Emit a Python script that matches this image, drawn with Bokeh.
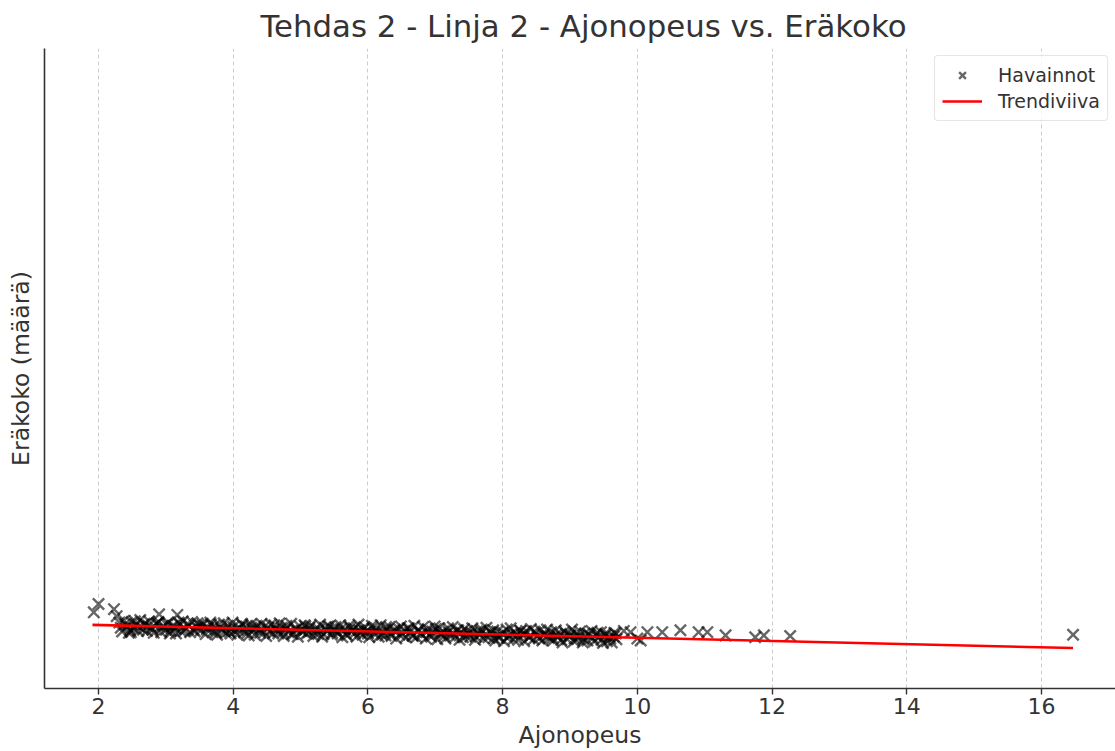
from bokeh.plotting import figure
from bokeh.models import Range1d, FixedTicker
from bokeh.embed import file_html
from bokeh.resources import INLINE

TITLE = "Tehdas 2 - Linja 2 - Ajonopeus vs. Eräkoko"
X_LABEL = "Ajonopeus"
Y_LABEL = "Eräkoko (määrä)"
x_ticks = [2, 4, 6, 8, 10, 12, 14, 16]

obs_x = [
    1.93, 2.00, 2.23, 2.27, 2.48, 2.90, 3.17,
    2.31, 2.35, 2.38, 2.42, 2.45, 2.49, 2.52, 2.56, 2.59, 2.62, 2.66, 2.69,
    2.72, 2.75, 2.79, 2.82, 2.86, 2.89, 2.93, 2.96, 3.00, 3.03, 3.06, 3.09,
    3.12, 3.15, 3.19, 3.22, 3.25, 3.29, 3.32, 3.36, 3.39, 3.43, 3.46, 3.49,
    3.52, 3.55, 3.59, 3.62, 3.66, 3.69, 3.72, 3.76, 3.79, 3.83, 3.86, 3.89,
    3.92, 3.96, 3.99, 4.02, 4.06, 4.09, 4.13, 4.16, 4.19, 4.23, 4.26, 4.29,
    4.32, 4.35, 4.39, 4.42, 4.46, 4.49, 4.52, 4.56, 4.59, 4.63, 4.66, 4.69,
    4.72, 4.75, 4.79, 4.82, 4.86, 4.89, 4.92, 4.96, 4.99, 5.03, 5.06, 5.09,
    5.12, 5.15, 5.19, 5.22, 5.26, 5.29, 5.32, 5.36, 5.39, 5.43, 5.46, 5.49,
    5.52, 5.55, 5.59, 5.62, 5.66, 5.69, 5.72, 5.76, 5.79, 5.83, 5.86, 5.89,
    5.92, 5.95, 5.99, 6.02, 6.06, 6.09, 6.12, 6.16, 6.19, 6.23, 6.26, 6.29,
    6.32, 6.35, 6.39, 6.42, 6.46, 6.49, 6.52, 6.56, 6.59, 6.63, 6.66, 6.69,
    6.72, 6.75, 6.79, 6.82, 6.86, 6.89, 6.92, 6.96, 6.99, 7.03, 7.06, 7.09,
    7.12, 7.15, 7.19, 7.22, 7.26, 7.29, 7.32, 7.36, 7.39, 7.43, 7.46, 7.49,
    7.52, 7.55, 7.59, 7.62, 7.66, 7.69, 7.72, 7.76, 7.79, 7.83, 7.86, 7.89,
    7.92, 7.95, 7.99, 8.02, 8.06, 8.09, 8.12, 8.16, 8.19, 8.23, 8.26, 8.29,
    8.32, 8.35, 8.39, 8.42, 8.46, 8.49, 8.52, 8.56, 8.59, 8.63, 8.66, 8.69,
    8.72, 8.75, 8.79, 8.82, 8.86, 8.89, 8.92, 8.96, 8.99, 9.03, 9.06, 9.09,
    9.12, 9.15, 9.19, 9.22, 9.26, 9.29, 9.32, 9.36, 9.39, 9.43, 9.46, 9.49,
    9.52, 9.55, 9.59, 9.62, 9.66, 9.69,
    2.33, 2.40, 2.47, 2.54, 2.60, 2.67,
    2.74, 2.80, 2.87, 2.94, 3.01, 3.07,
    3.14, 3.21, 3.27, 3.34, 3.41, 3.47,
    3.54, 3.61, 3.67, 3.74, 3.81, 3.87,
    3.94, 4.00, 4.07, 4.14, 4.21, 4.27,
    4.33, 4.40, 4.47, 4.54, 4.61, 4.67,
    4.74, 4.80, 4.87, 4.94, 5.01, 5.07,
    5.13, 5.20, 5.27, 5.34, 5.41, 5.47,
    5.54, 5.60, 5.67, 5.74, 5.81, 5.87,
    5.93, 6.00, 6.07, 6.14, 6.21, 6.27,
    6.33, 6.40, 6.47, 6.54, 6.61, 6.67,
    6.74, 6.80, 6.87, 6.94, 7.01, 7.07,
    7.13, 7.20, 7.27, 7.34, 7.41, 7.47,
    7.54, 7.60, 7.67, 7.74, 7.81, 7.87,
    7.93, 8.00, 8.07, 8.14, 8.21, 8.27,
    8.33, 8.40, 8.47, 8.54, 8.61, 8.67,
    8.74, 8.80, 8.87, 8.94, 9.01, 9.07,
    9.13, 9.20, 9.27, 9.34, 9.41, 9.47,
    9.53, 9.60, 9.65,
    9.68, 9.80, 9.90, 10.00, 10.05, 10.15, 10.37, 10.64, 10.91, 11.04,
    11.31, 11.75, 11.88, 12.27, 16.47,
]
obs_y = [
    119, 132, 124, 113, 88, 116, 115,
    103, 89, 106, 97, 87, 104, 94, 100, 90, 107, 92, 101,
    90, 105, 95, 87, 101, 104, 88, 98, 92, 103, 86, 97,
    98, 86, 103, 90, 105, 93, 101, 88, 104, 89, 95, 99,
    91, 101, 85, 95, 103, 88, 98, 84, 100, 92, 102, 87,
    98, 86, 103, 90, 84, 95, 101, 88, 97, 83, 100, 92,
    84, 98, 92, 101, 88, 82, 95, 100, 86, 93, 90, 102,
    95, 82, 98, 88, 101, 85, 92, 81, 97, 90, 99, 86,
    88, 98, 82, 93, 85, 100, 81, 95, 90, 97, 84, 92,
    96, 86, 99, 80, 92, 83, 98, 89, 94, 81, 100, 87,
    84, 96, 90, 80, 98, 86, 94, 81, 99, 88, 83, 92,
    96, 82, 90, 78, 93, 97, 85, 80, 94, 88, 83, 98,
    80, 91, 86, 96, 78, 93, 83, 89, 97, 77, 94, 85,
    89, 78, 94, 83, 96, 80, 91, 76, 87, 93, 82, 85,
    81, 94, 76, 89, 84, 92, 78, 95, 80, 87, 91, 75,
    89, 79, 85, 74, 92, 82, 94, 77, 87, 76, 90, 84,
    74, 90, 80, 93, 77, 87, 82, 91, 75, 85, 92, 79,
    88, 75, 91, 80, 85, 72, 89, 77, 83, 92, 74, 86,
    78, 89, 72, 86, 75, 83, 90, 74, 85, 80, 88, 71,
    85, 74, 82, 72, 87, 77,
    95, 101, 91, 105, 96, 100,
    98, 92, 102, 94, 100, 90,
    94, 100, 90, 98, 92, 102,
    98, 92, 100, 88, 95, 90,
    89, 96, 92, 99, 87, 95,
    94, 87, 97, 90, 99, 86,
    88, 95, 85, 93, 90, 97,
    95, 88, 92, 85, 97, 87,
    89, 93, 85, 95, 87, 91,
    92, 86, 94, 88, 84, 96,
    86, 92, 84, 90, 94, 82,
    91, 84, 88, 81, 93, 86,
    82, 88, 85, 91, 80, 90,
    87, 81, 90, 84, 88, 79,
    82, 88, 79, 86, 83, 90,
    86, 80, 89, 78, 84, 82,
    79, 84, 76, 86, 83, 78,
    82, 77, 85, 79, 87, 76,
    83, 78, 81,
    86, 90, 88, 78, 75, 88, 88, 91, 88, 88,
    83, 80, 83, 82, 84,
]

# Trend line (Trendiviiva) end points
trend_x = [1.91, 16.47]
trend_y = [99.4, 63.2]

FONT = "DejaVu Sans"
TXT = "#333333"

p = figure(
    width=1115, height=751,
    x_range=Range1d(1.198, 17.1), y_range=Range1d(0, 1000),
    output_backend="svg", toolbar_location=None,
    title=TITLE,
    min_border_left=44, min_border_right=0, min_border_top=46, min_border_bottom=61,
)
p.outline_line_color = None
p.background_fill_color = "white"
p.border_fill_color = "white"

p.title.text_font = FONT
p.title.text_font_size = "30.8px"
p.title.text_font_style = "normal"
p.title.text_color = TXT
p.title.align = "left"
p.title.offset = 216

p.xaxis.ticker = FixedTicker(ticks=x_ticks)
p.yaxis.ticker = FixedTicker(ticks=[])
for ax in (p.xaxis, p.yaxis):
    ax.axis_line_color = TXT
    ax.axis_line_width = 1.6
    ax.major_tick_line_color = TXT
    ax.major_tick_line_width = 1.4
    ax.major_tick_in = 0
    ax.major_tick_out = 6
    ax.minor_tick_line_color = None
    ax.major_label_text_font = FONT
    ax.major_label_text_font_size = "22px"
    ax.major_label_text_color = TXT
    ax.axis_label_text_font = FONT
    ax.axis_label_text_font_size = "23.5px"
    ax.axis_label_text_font_style = "normal"
    ax.axis_label_text_color = TXT
p.xaxis.axis_label = X_LABEL
p.yaxis.axis_label = Y_LABEL
p.xaxis.major_label_standoff = 3
p.xaxis.axis_label_standoff = 4
p.yaxis.major_tick_out = 0
p.yaxis.axis_label_standoff = 10

p.ygrid.visible = False
p.xgrid.grid_line_color = "#cccccc"
p.xgrid.grid_line_dash = "4 3"
p.xgrid.grid_line_width = 1

p.scatter(obs_x, obs_y, marker="x", size=16, line_width=2.4,
          color="black", alpha=0.6, legend_label="Havainnot")
p.line(trend_x, trend_y, color="red", line_width=2.6, legend_label="Trendiviiva")

lg = p.legend[0]
lg.location = "top_right"
lg.margin = 7
lg.padding = 7
lg.spacing = 2
lg.glyph_width = 40
lg.glyph_height = 24
lg.label_standoff = 16
lg.label_text_font = FONT
lg.label_text_font_size = "19px"
lg.label_text_color = TXT
lg.border_line_color = "#cccccc"
lg.border_line_width = 1
lg.border_radius = 4
lg.background_fill_color = "white"
lg.background_fill_alpha = 0.8

open("out.html", "w").write(file_html(p, INLINE))
